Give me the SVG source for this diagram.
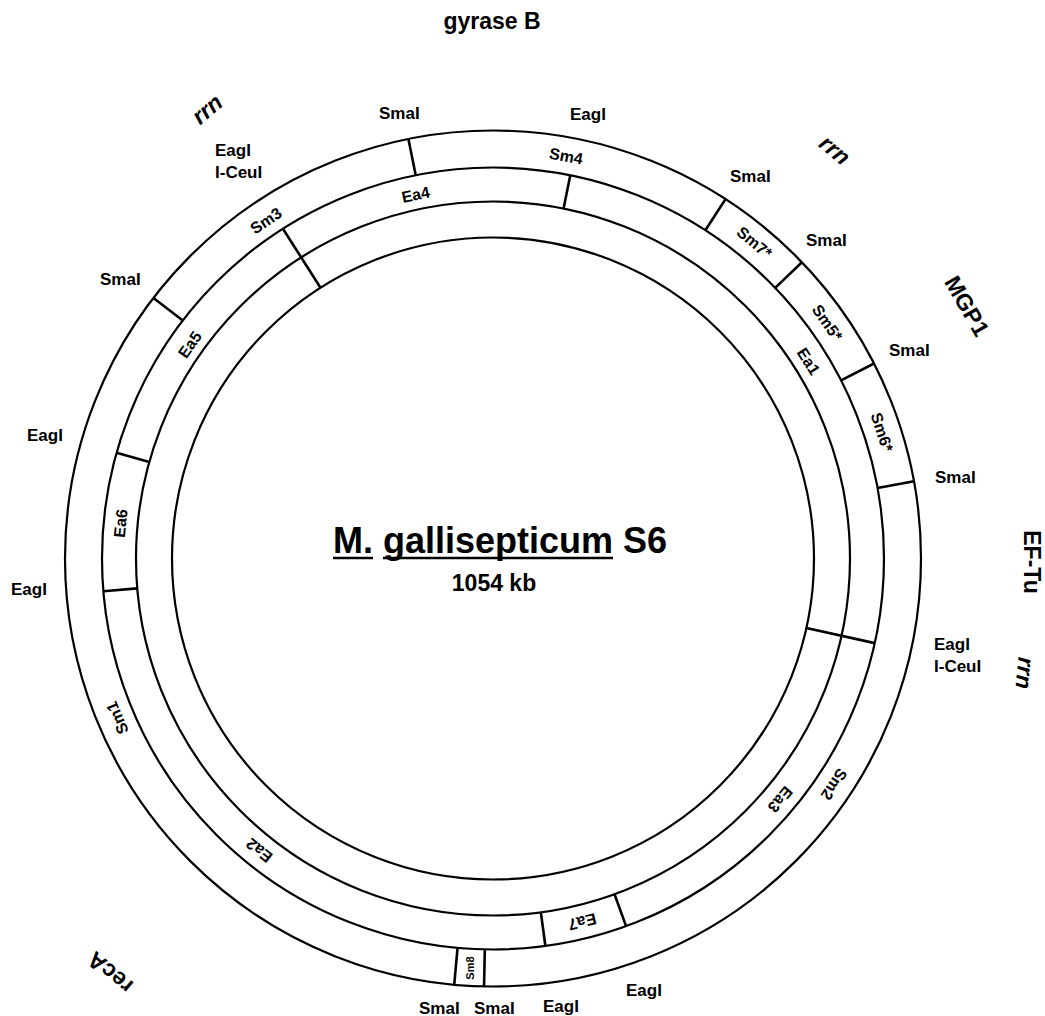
<svg xmlns="http://www.w3.org/2000/svg" width="1045" height="1016" viewBox="0 0 1045 1016">
<style>
text{font-family:"Liberation Sans",Arial,Helvetica,sans-serif;font-weight:bold;fill:#000}
.ring{fill:none;stroke:#000;stroke-width:2.2}
.tick{stroke:#000;stroke-width:2.6}
.site{font-size:17px}
.frag{font-size:16px;text-anchor:middle;dominant-baseline:central}
.gene{font-size:23px;text-anchor:middle;dominant-baseline:central}
.it{font-style:italic}
.title{font-size:36px}
.sub{font-size:23px;text-anchor:middle}
</style>
<rect width="1045" height="1016" fill="#fff"/>
<g id="rings" transform="translate(493 558.5)">
<circle class="ring" r="428"/>
<circle class="ring" r="391"/>
<circle class="ring" r="357"/>
<circle class="ring" r="321"/>
</g>
<g id="connectors" transform="translate(493 558.5)">
<line class="tick" x1="0" y1="-391" x2="0" y2="-428" transform="rotate(348.6)"/>
<line class="tick" x1="0" y1="-391" x2="0" y2="-428" transform="rotate(32.9)"/>
<line class="tick" x1="0" y1="-391" x2="0" y2="-428" transform="rotate(46.2)"/>
<line class="tick" x1="0" y1="-391" x2="0" y2="-428" transform="rotate(62.9)"/>
<line class="tick" x1="0" y1="-391" x2="0" y2="-428" transform="rotate(79.6)"/>
<line class="tick" x1="0" y1="-391" x2="0" y2="-428" transform="rotate(181.2)"/>
<line class="tick" x1="0" y1="-391" x2="0" y2="-428" transform="rotate(185.2)"/>
<line class="tick" x1="0" y1="-391" x2="0" y2="-428" transform="rotate(307.5)"/>
<line class="tick" x1="0" y1="-357" x2="0" y2="-391" transform="rotate(11.4)"/>
<line class="tick" x1="0" y1="-357" x2="0" y2="-391" transform="rotate(160.1)"/>
<line class="tick" x1="0" y1="-357" x2="0" y2="-391" transform="rotate(172.3)"/>
<line class="tick" x1="0" y1="-357" x2="0" y2="-391" transform="rotate(265.2)"/>
<line class="tick" x1="0" y1="-357" x2="0" y2="-391" transform="rotate(285.7)"/>
<line class="tick" x1="0" y1="-321" x2="0" y2="-391" transform="rotate(102.5)"/>
<line class="tick" x1="0" y1="-321" x2="0" y2="-391" transform="rotate(327.5)"/>
</g>
<g id="fragments" transform="translate(493 558.5)">
<g id="Sm4"><text class="frag" transform="rotate(10.3) translate(0 -409)">Sm4</text></g>
<g id="Sm7"><text class="frag" transform="rotate(39.6) translate(0 -410)">Sm7*</text></g>
<g id="Sm5"><text class="frag" transform="rotate(54.8) translate(0 -409)">Sm5*</text></g>
<g id="Sm6"><text class="frag" transform="rotate(72) translate(0 -409)">Sm6*</text></g>
<g id="Sm2"><text class="frag" transform="rotate(123.5) translate(0 -409)">Sm2</text></g>
<g id="Sm1"><text class="frag" transform="rotate(247) translate(0 -408)">Sm1</text></g>
<g id="Sm3"><text class="frag" transform="rotate(-33.9) translate(0 -407)">Sm3</text></g>
<g id="Ea4"><text class="frag" transform="rotate(-12) translate(0 -372)">Ea4</text></g>
<g id="Ea1"><text class="frag" transform="rotate(58) translate(0 -372)">Ea1</text></g>
<g id="Ea3"><text class="frag" transform="rotate(130) translate(0 -375)">Ea3</text></g>
<g id="Ea7"><text class="frag" transform="rotate(166.2) translate(0 -374)">Ea7</text></g>
<g id="Ea2"><text class="frag" transform="rotate(218.7) translate(0 -374)">Ea2</text></g>
<g id="Ea6"><text class="frag" transform="rotate(275.4) translate(0 -374)">Ea6</text></g>
<g id="Ea5"><text class="frag" transform="rotate(305.2) translate(0 -371)">Ea5</text></g>
</g>
<g id="Sm8"><text class="frag" style="font-size:11px" transform="translate(470 968) rotate(-90)">Sm8</text></g>
<g id="site-labels">
<text class="site" x="379" y="119">SmaI</text>
<text class="site" x="570" y="120">EagI</text>
<text class="site" x="215" y="155.5">EagI</text>
<text class="site" x="215" y="177.5">I-CeuI</text>
<text class="site" x="100" y="284.5">SmaI</text>
<text class="site" x="730" y="182">SmaI</text>
<text class="site" x="806" y="246">SmaI</text>
<text class="site" x="889" y="356">SmaI</text>
<text class="site" x="935" y="483">SmaI</text>
<text class="site" x="934" y="650">EagI</text>
<text class="site" x="934" y="672">I-CeuI</text>
<text class="site" x="27" y="440.5">EagI</text>
<text class="site" x="11" y="595">EagI</text>
<text class="site" x="626" y="996">EagI</text>
<text class="site" x="543" y="1012">EagI</text>
<text class="site" x="419" y="1014">SmaI</text>
<text class="site" x="474" y="1014">SmaI</text>
</g>
<g id="gene-labels">
<text class="gene" x="492" y="21">gyrase B</text>
<text class="gene it" transform="translate(207 109) rotate(-40)">rrn</text>
<text class="gene it" transform="translate(835 150) rotate(40)">rrn</text>
<text class="gene" transform="translate(967 306) rotate(60)">MGP1</text>
<text class="gene" transform="translate(1032 562) rotate(90)">EF-Tu</text>
<text class="gene it" transform="translate(1025 673) rotate(95)">rrn</text>
<text class="gene" transform="translate(110 973) rotate(220)">recA</text>
</g>
<g id="title">
<text class="title" x="333" y="553">M. gallisepticum S6</text>
<line x1="333" y1="558" x2="373" y2="558" stroke="#000" stroke-width="2.5"/>
<line x1="383" y1="558" x2="613" y2="558" stroke="#000" stroke-width="2.5"/>
<text class="sub" x="494" y="591">1054 kb</text>
</g>
</svg>
